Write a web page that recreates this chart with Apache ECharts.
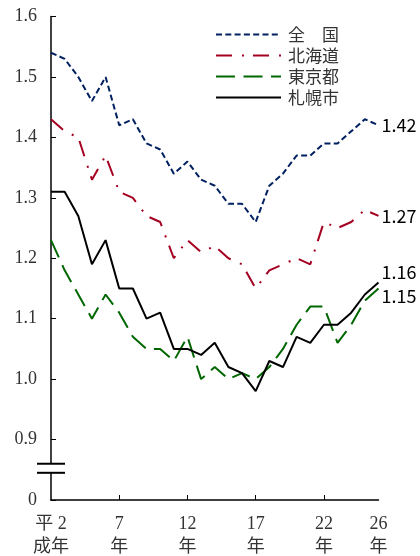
<!DOCTYPE html>
<html><head><meta charset="utf-8">
<script src="https://cdn.jsdelivr.net/npm/echarts@6/dist/echarts.min.js"></script>
<style>html,body{margin:0;padding:0;background:#fff}#c{width:420px;height:556px}</style>
</head><body><div id="c"></div>
<script>
// 平成2年〜26年
const years = [2,3,4,5,6,7,8,9,10,11,12,13,14,15,16,17,18,19,20,21,22,23,24,25,26];
const zenkoku  = [1.54,1.53,1.50,1.46,1.50,1.42,1.43,1.39,1.38,1.34,1.36,1.33,1.32,1.29,1.29,1.26,1.32,1.34,1.37,1.37,1.39,1.39,1.41,1.43,1.42];
const hokkaido = [1.43,1.41,1.40,1.33,1.37,1.31,1.30,1.27,1.26,1.20,1.23,1.21,1.22,1.20,1.19,1.15,1.18,1.19,1.20,1.19,1.26,1.25,1.26,1.28,1.27];
const tokyo    = [1.23,1.18,1.14,1.10,1.14,1.11,1.07,1.05,1.05,1.03,1.07,1.00,1.02,1.00,1.01,1.00,1.02,1.05,1.09,1.12,1.12,1.06,1.09,1.13,1.15];
const sapporo  = [1.31,1.31,1.27,1.19,1.23,1.15,1.15,1.10,1.11,1.05,1.05,1.04,1.06,1.02,1.01,0.98,1.03,1.02,1.07,1.06,1.09,1.09,1.11,1.14,1.16];
const seriesNames = ['全　国','北海道','東京都','札幌市'];
const yMin = 0.8, yMax = 1.6, yStep = 0.1;   // 0.8 position is shown as "0" (axis break)
const breakMark = [0.86, 0.845];

const serif = "'Liberation Serif','Noto Sans CJK JP',serif";
const sans = "'Noto Sans CJK JP','Noto Sans',sans-serif";

function lineSeries(name, data, color, dash, offY) {
  return {
    name, type: 'line', data, symbol: 'none', smooth: false,
    lineStyle: {color, width: 2, type: dash},
    itemStyle: {color},
    endLabel: {show: true, distance: 3, offset: [0, offY], color: '#000', fontFamily: sans, fontSize: 18,
      formatter: p => p.value.toFixed(2)},
    z: 3
  };
}

const chart = echarts.init(document.getElementById('c'), null, {renderer: 'canvas'});
chart.setOption({
  animation: false,
  backgroundColor: '#fff',
  grid: {left: 51, right: 41.5, top: 16.5, bottom: 56, containLabel: false, outerBoundsMode: 'none'},
  legend: {
    orient: 'vertical', left: 215, top: 26, padding: 0, itemWidth: 65, itemHeight: 14, itemGap: 4,
    data: seriesNames,
    itemStyle: {opacity: 0},
    textStyle: {fontFamily: sans, fontSize: 17, color: '#333', padding: [0,0,0,2]}
  },
  xAxis: {
    type: 'category', data: years, boundaryGap: false,
    axisLine: {lineStyle: {color: '#000', width: 1.5}},
    axisTick: {inside: true, length: 5, lineStyle: {color: '#000'}, interval: i => i % 5 === 0 && i > 0},
    axisLabel: {
      interval: i => i % 5 === 0 || i === years.length - 1,
      margin: 13, lineHeight: 23, fontFamily: serif, fontSize: 18, color: '#333',
      formatter: (v, i) => i === 0 ? '平 ' + v + '\n成年' : v + '\n年'
    }
  },
  yAxis: {
    type: 'value', min: yMin, max: yMax, interval: yStep,
    axisLine: {show: true, lineStyle: {color: '#000', width: 1.5}},
    axisTick: {show: true, inside: true, length: 5, lineStyle: {color: '#000'}},
    splitLine: {show: false},
    axisLabel: {margin: 14, fontFamily: serif, fontSize: 18, color: '#333',
      formatter: v => v < yMin + yStep / 2 ? '0' : v.toFixed(1)}
  },
  series: [
    lineSeries(seriesNames[0], zenkoku, '#002060', [6, 3.3], 0),
    lineSeries(seriesNames[1], hokkaido, '#A50021', [16, 10, 2, 9], 0),
    lineSeries(seriesNames[2], tokyo, '#006600', [19, 8.5], 8),
    lineSeries(seriesNames[3], sapporo, '#000000', 'solid', -10),
    {
      type: 'custom', name: 'break', data: [[0, breakMark[0], breakMark[1]]], z: 5, clip: false,
      silent: true, legendHoverLink: false,
      renderItem: (params, api) => {
        const a = api.coord([api.value(0), api.value(1)]);
        const b = api.coord([api.value(0), api.value(2)]);
        const hw = 14;
        return {type: 'group', children: [
          {type: 'rect', shape: {x: a[0] - hw, y: a[1], width: hw * 2, height: b[1] - a[1]}, style: {fill: '#fff'}},
          {type: 'line', shape: {x1: a[0] - hw, y1: a[1], x2: a[0] + hw, y2: a[1]}, style: {stroke: '#000', lineWidth: 2}},
          {type: 'line', shape: {x1: b[0] - hw, y1: b[1], x2: b[0] + hw, y2: b[1]}, style: {stroke: '#000', lineWidth: 2}}
        ]};
      }
    }
  ]
});
</script>
</body></html>
